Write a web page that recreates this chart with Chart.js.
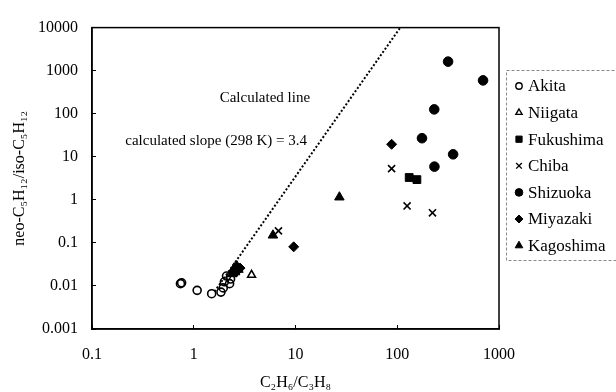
<!DOCTYPE html>
<html>
<head>
<meta charset="utf-8">
<script src="https://cdn.jsdelivr.net/npm/chart.js@4.4.1/dist/chart.umd.min.js"></script>
<style>
  html, body { margin: 0; padding: 0; background: #fff; }
</style>
</head>
<body>
<canvas id="myChart" width="616" height="392"></canvas>
<script>
// C2H6/C3H8 (x) against neo-C5H12/iso-C5H12 (y)
const akitaX = [0.74, 0.76, 1.08, 1.5, 1.85, 1.95, 2.0, 2.1, 2.25, 2.3];
const akitaY = [0.0113, 0.0118, 0.0079, 0.0066, 0.0072, 0.0090, 0.0125, 0.0170, 0.0113, 0.0145];

const niigataX = [3.7, 2.3, 2.45];
const niigataY = [0.018, 0.019, 0.023];

const fukushimaX = [131, 156];
const fukushimaY = [3.3, 2.95];

const chibaX = [88, 6.8, 125, 222];
const chibaY = [5.3, 0.19, 0.72, 0.50];

const shizuokaX = [316, 697, 231, 175, 354, 232];
const shizuokaY = [1620, 594, 126, 27, 11.4, 5.9];

const miyazakiX = [88, 9.6, 2.6, 2.85];
const miyazakiY = [19.5, 0.081, 0.021, 0.026];

const kagoshimaX = [27, 6.0, 2.5, 2.65, 2.75, 2.55, 2.4];
const kagoshimaY = [1.15, 0.15, 0.026, 0.029, 0.024, 0.021, 0.019];

// calculated line, slope 3.4 on log-log
const lineX = [1.6, 107];
const lineY = [0.0074, 10000];

const regions = ['Akita', 'Niigata', 'Fukushima', 'Chiba', 'Shizuoka', 'Miyazaki', 'Kagoshima'];
const xTicks = [0.1, 1, 10, 100, 1000];
const yTicks = [0.001, 0.01, 0.1, 1, 10, 100, 1000, 10000];

const serif = '"Liberation Serif", "Times New Roman", serif';

function pts(xs, ys) {
    return xs.map(function(x, i) { return { x: x, y: ys[i] }; });
}

const markers = [
    { pointStyle: 'circle',   radius: 4,   open: true },
    { pointStyle: 'triangle', radius: 4.5, open: true },
    { pointStyle: 'rect',     radius: 5.5, open: false },
    { pointStyle: 'crossRot', radius: 5,   open: true },
    { pointStyle: 'circle',   radius: 4.8, open: false },
    { pointStyle: 'rectRot',  radius: 5,   open: false },
    { pointStyle: 'triangle', radius: 5.5, open: false }
];
const allX = [akitaX, niigataX, fukushimaX, chibaX, shizuokaX, miyazakiX, kagoshimaX];
const allY = [akitaY, niigataY, fukushimaY, chibaY, shizuokaY, miyazakiY, kagoshimaY];

const datasets = [{
    type: 'line',
    label: 'Calculated line',
    data: pts(lineX, lineY),
    borderColor: '#000',
    borderWidth: 2,
    borderDash: [2, 2],
    pointRadius: 0,
    fill: false
}];
regions.forEach(function(name, i) {
    const m = markers[i];
    datasets.push({
        label: name,
        data: pts(allX[i], allY[i]),
        pointStyle: m.pointStyle,
        pointRadius: m.radius,
        pointBorderWidth: m.open ? 1.6 : 1,
        pointBackgroundColor: m.open ? 'rgba(255,255,255,0)' : '#000',
        pointBorderColor: '#000',
        legendMarker: m
    });
});

// frame round the plot area
const framePlugin = {
    id: 'frame',
    afterDatasetsDraw(chart) {
        const a = chart.chartArea, ctx = chart.ctx;
        ctx.save();
        ctx.strokeStyle = '#000';
        ctx.lineWidth = 1.5;
        ctx.strokeRect(a.left, a.top, a.right - a.left, a.bottom - a.top);
        ctx.restore();
    }
};

// the two text notes, anchored at data positions
const notes = [
    { text: 'Calculated line', x: 5, y: 230 },
    { text: 'calculated slope (298 K) = 3.4', x: 1.66, y: 22.6 }
];
const notesPlugin = {
    id: 'notes',
    afterDatasetsDraw(chart) {
        const ctx = chart.ctx, sx = chart.scales.x, sy = chart.scales.y;
        ctx.save();
        ctx.font = '15px ' + serif;
        ctx.fillStyle = '#000';
        ctx.textAlign = 'center';
        ctx.textBaseline = 'middle';
        notes.forEach(function(n) {
            ctx.fillText(n.text, sx.getPixelForValue(n.x), sy.getPixelForValue(n.y));
        });
        ctx.restore();
    }
};

// boxed legend at the right
const legendPlugin = {
    id: 'boxLegend',
    afterDraw(chart) {
        const ctx = chart.ctx;
        ctx.save();
        ctx.strokeStyle = '#888';
        ctx.lineWidth = 1;
        ctx.setLineDash([3, 2]);
        ctx.strokeRect(506.5, 70.5, 140, 190);
        ctx.setLineDash([]);
        ctx.font = '17px ' + serif;
        ctx.fillStyle = '#000';
        ctx.textBaseline = 'middle';
        let row = 0;
        chart.data.datasets.forEach(function(ds) {
            if (!ds.legendMarker) return;
            const m = ds.legendMarker;
            const y = 86 + row * 26.6;
            ctx.fillStyle = m.open ? 'rgba(255,255,255,0)' : '#000';
            ctx.strokeStyle = '#000';
            ctx.lineWidth = m.open ? 1.4 : 1;
            Chart.helpers.drawPoint(ctx, { pointStyle: m.pointStyle, radius: m.radius * 0.8, rotation: 0, borderWidth: ctx.lineWidth }, 519, y);
            ctx.fillStyle = '#000';
            ctx.fillText(ds.label, 528, y + 1);
            row++;
        });
        ctx.restore();
    }
};

const config = {
    type: 'scatter',
    data: { datasets: datasets },
    options: {
        responsive: false,
        animation: false,
        devicePixelRatio: 1,
        layout: { padding: { left: 0, top: 17, right: 117, bottom: 0 } },
        plugins: {
            legend: { display: false },
            tooltip: { enabled: false }
        },
        scales: {
            x: {
                type: 'logarithmic',
                min: 0.1,
                max: 1000,
                afterBuildTicks: function(s) { s.ticks = xTicks.map(function(v) { return { value: v }; }); },
                afterFit: function(s) { s.height = 63; },
                ticks: {
                    font: { family: serif, size: 16 },
                    color: '#000',
                    padding: 20,
                    maxRotation: 0,
                    autoSkip: false,
                    callback: function(v) { return String(v); }
                },
                grid: { drawOnChartArea: false, color: '#000', tickLength: -4, lineWidth: 1 },
                border: { color: '#000', width: 1.5 },
                title: {
                    display: true,
                    text: 'C₂H₆/C₃H₈',
                    font: { family: serif, size: 16 },
                    color: '#000',
                    padding: { top: 0, bottom: 0 }
                }
            },
            y: {
                type: 'logarithmic',
                min: 0.001,
                max: 10000,
                afterBuildTicks: function(s) { s.ticks = yTicks.map(function(v) { return { value: v }; }); },
                afterFit: function(s) { s.width = 92; },
                ticks: {
                    font: { family: serif, size: 16 },
                    color: '#000',
                    padding: 18,
                    autoSkip: false,
                    callback: function(v) { return String(v); }
                },
                grid: { drawOnChartArea: false, color: '#000', tickLength: -4, lineWidth: 1 },
                border: { color: '#000', width: 1.5 },
                title: {
                    display: true,
                    text: 'neo-C₅H₁₂/iso-C₅H₁₂',
                    font: { family: serif, size: 16 },
                    color: '#000',
                    padding: { top: 10, bottom: 0 }
                }
            }
        }
    },
    plugins: [framePlugin, notesPlugin, legendPlugin]
};

const myChart = new Chart(document.getElementById('myChart'), config);
</script>
</body>
</html>
